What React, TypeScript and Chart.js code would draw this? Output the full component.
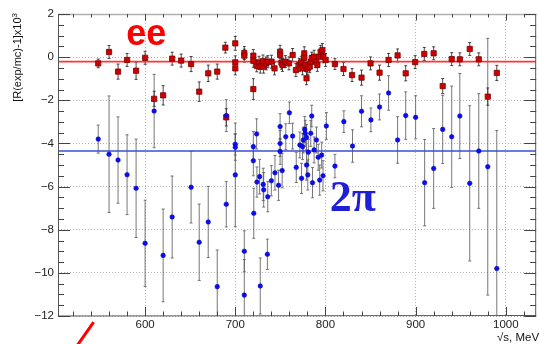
import { useEffect, useRef } from "react";
import { Chart, registerables } from "chart.js";

Chart.register(...registerables);

// Relative deviation of the measured ratio from MC, e+e- channel
const EE_ENERGY = [548, 560, 570, 580, 590, 600, 610, 620, 630, 640, 651, 660, 670, 680, 689, 690, 700, 700, 700, 710, 710, 720, 720, 720, 723.7, 726.3, 727.7, 730.7, 731.4, 734.3, 736.2, 740.2, 743.5, 749.7, 749.7, 751.2, 752.3, 755.6, 759.5, 763.6, 767.2, 771, 773.2, 774.6, 776.5, 776.5, 777.6, 779, 780.4, 782.6, 783.7, 784.8, 787.4, 789.2, 791, 792.9, 794.7, 796.6, 797.6, 800.2, 810.5, 820, 829.5, 840, 850, 860, 870, 880, 889, 899.5, 909.6, 920, 930, 940, 949, 960, 970, 980, 990];
const EE_DEV = [-0.29, 0.24, -0.67, -0.13, -0.63, -0.03, -1.93, -1.77, -0.07, -0.16, -0.32, -1.6, -0.75, -0.67, 0.44, -2.79, 0.64, -0.24, -0.52, 0.19, 0.07, 0.07, -0.17, -1.48, -0.4, -0.26, -0.44, -0.18, -0.44, -0.29, -0.21, -0.21, -0.52, 0.25, 0.1, -0.26, -0.36, -0.21, -0.29, 0.1, -0.6, -0.36, -0.24, -0.52, 0.18, -0.03, -0.36, -0.98, -0.52, -0.44, -0.21, -0.05, 0.02, -0.21, -0.36, 0.02, 0.25, 0.33, 0.02, -0.13, -0.32, -0.55, -0.83, -0.95, -0.29, -0.72, -0.13, 0.08, -0.75, -0.23, 0.15, 0.18, -1.34, -0.09, -0.1, 0.38, -0.1, -1.83, -0.73];
const EE_ERR = [0.2, 0.3, 0.35, 0.3, 0.4, 0.3, 0.35, 0.45, 0.3, 0.3, 0.35, 0.45, 0.38, 0.35, 0.25, 0.4, 0.32, 0.3, 0.3, 0.3, 0.3, 0.28, 0.3, 0.48, 0.28, 0.3, 0.3, 0.28, 0.3, 0.3, 0.28, 0.3, 0.3, 0.3, 0.28, 0.3, 0.3, 0.28, 0.3, 0.3, 0.3, 0.3, 0.28, 0.3, 0.3, 0.28, 0.3, 0.3, 0.3, 0.28, 0.3, 0.28, 0.3, 0.28, 0.3, 0.28, 0.3, 0.3, 0.28, 0.3, 0.25, 0.3, 0.3, 0.35, 0.3, 0.35, 0.3, 0.3, 0.35, 0.3, 0.3, 0.3, 0.35, 0.3, 0.3, 0.3, 0.3, 0.4, 0.35];

// Same quantity for the pi+pi- channel
const PI_ENERGY = [548, 560, 570, 580, 590, 600, 610, 620, 630, 651, 660, 670, 680, 690, 690, 700, 700, 700, 710, 710, 720, 720, 720.5, 723.7, 724, 727, 727.7, 731, 731.5, 735.6, 736, 740, 744, 748, 749.7, 749.7, 749.7, 752, 756, 760, 763.6, 767.6, 771.6, 773.5, 774.6, 775.4, 777, 777.6, 779, 779, 780.4, 781, 783.7, 784.8, 785.6, 787.4, 790, 792, 793.6, 795.8, 797.3, 801, 810.5, 820.4, 830, 840, 850.4, 860, 870, 880, 889, 900, 910, 920, 930, 940, 949, 960, 970, 980, 990];
const PI_DEV = [-3.8, -4.5, -4.77, -5.45, -6.08, -8.63, -2.5, -9.19, -7.41, -6.03, -8.58, -7.64, -10.64, -2.71, -6.82, -4.04, -4.18, -5.46, -9.0, -11.03, -4.15, -4.8, -7.24, -3.56, -5.79, -5.54, -10.61, -5.9, -6.15, -9.14, -6.47, -5.73, -5.36, -5.94, -3.22, -4.0, -4.37, -5.26, -3.69, -2.58, -3.66, -5.11, -4.07, -5.62, -4.15, -3.84, -3.35, -3.53, -3.72, -5.0, -5.46, -4.41, -3.53, -2.73, -5.82, -4.3, -3.84, -4.64, -5.7, -4.54, -5.5, -3.19, -5.05, -2.99, -4.12, -2.51, -2.91, -2.31, -1.66, -3.84, -2.71, -2.79, -5.82, -5.16, -3.35, -3.69, -2.73, -5.85, -4.35, -5.08, -9.8];
const PI_ERR = [0.65, 2.7, 2.0, 1.85, 2.28, 2.0, 1.7, 2.15, 1.9, 1.66, 1.77, 1.65, 1.7, 0.74, 1.05, 0.5, 0.6, 2.4, 0.95, 1.65, 0.7, 0.7, 1.16, 0.7, 0.7, 0.8, 1.3, 0.75, 0.8, 0.7, 0.7, 0.7, 0.8, 0.7, 0.6, 0.6, 0.6, 0.8, 0.6, 0.5, 0.6, 0.7, 0.6, 0.7, 0.6, 0.6, 0.6, 0.6, 0.6, 0.7, 0.7, 0.6, 0.6, 0.5, 0.7, 0.6, 0.6, 0.6, 0.7, 0.6, 0.7, 0.62, 0.54, 0.5, 0.75, 0.72, 0.55, 0.6, 0.8, 1.08, 1.1, 1.0, 2.0, 1.85, 1.58, 2.35, 1.97, 3.6, 2.66, 5.95, 6.4];

// Fitted constant levels
const EE_MEAN = -0.21;
const PI_MEAN = -4.35;

// Axes
const X_MIN = 503.4;
const X_MAX = 1033.7;
const Y_MIN = -12;
const Y_MAX = 2;
const X_TICKS = [600, 700, 800, 900, 1000];
const Y_TICKS = [2, 0, -2, -4, -6, -8, -10, -12];

const X_TITLE = "√s, MeV";
const Y_TITLE = "[R(exp/mc)-1]x10";
const Y_TITLE_SUP = "3";
const EE_LABEL = "ee";
const PI_LABEL = "2π";

const SANS = '"Liberation Sans", Arial, sans-serif';
const SERIF = '"Liberation Serif", "Times New Roman", serif';

const fmtTick = (v: number) => (v < 0 ? "\u2212" + Math.abs(v) : String(v));

const decor = {
  id: "decor",
  beforeDatasetsDraw(chart: any) {
    const { ctx, chartArea: a, scales } = chart;
    const x = scales.x;
    const y = scales.y;
    ctx.save();
    ctx.beginPath();
    ctx.rect(a.left, a.top, a.right - a.left, a.bottom - a.top);
    ctx.clip();
    const bars = (E: number[], V: number[], ERR: number[], color: string) => {
      ctx.strokeStyle = color;
      ctx.lineWidth = 1;
      for (let i = 0; i < E.length; i++) {
        const px = x.getPixelForValue(E[i]);
        const y1 = y.getPixelForValue(V[i] + ERR[i]);
        const y2 = y.getPixelForValue(V[i] - ERR[i]);
        ctx.beginPath();
        ctx.moveTo(px, y1);
        ctx.lineTo(px, y2);
        ctx.moveTo(px - 1.5, y1);
        ctx.lineTo(px + 1.5, y1);
        ctx.moveTo(px - 1.5, y2);
        ctx.lineTo(px + 1.5, y2);
        ctx.stroke();
      }
    };
    bars(PI_ENERGY, PI_DEV, PI_ERR, "rgba(95,95,95,0.85)");
    bars(EE_ENERGY, EE_DEV, EE_ERR, "rgba(40,40,40,0.85)");
    ctx.restore();
  },
  afterDraw(chart: any) {
    const { ctx, chartArea: a, scales } = chart;
    const x = scales.x;
    const y = scales.y;
    ctx.save();

    // frame
    ctx.strokeStyle = "#b0b0b0";
    ctx.lineWidth = 1.5;
    ctx.beginPath();
    ctx.moveTo(a.left, a.top + 0.5);
    ctx.lineTo(a.right, a.top + 0.5);
    ctx.stroke();
    ctx.strokeStyle = "#555";
    ctx.lineWidth = 1;
    ctx.beginPath();
    ctx.moveTo(a.left + 0.5, a.top);
    ctx.lineTo(a.left + 0.5, a.bottom);
    ctx.lineTo(a.right, a.bottom - 0.5);
    ctx.moveTo(a.right - 0.5, a.top);
    ctx.lineTo(a.right - 0.5, a.bottom);
    ctx.stroke();

    // inward tick marks on all sides
    ctx.strokeStyle = "#444";
    ctx.beginPath();
    for (let k = 0; k <= 25; k++) {
      const v = 520 + 20 * k;
      const px = Math.round(x.getPixelForValue(v)) + 0.5;
      const major = v % 100 === 0;
      const lb = major ? 9 : 4.5;
      const lt = major ? 6.5 : 3.5;
      ctx.moveTo(px, a.bottom);
      ctx.lineTo(px, a.bottom - lb);
      ctx.moveTo(px, a.top);
      ctx.lineTo(px, a.top + lt);
    }
    for (let k = 0; k <= 28; k++) {
      const v = Y_MIN + 0.5 * k;
      const py = Math.round(y.getPixelForValue(v)) + 0.5;
      const major = k % 4 === 0;
      const len = major ? 12 : 6;
      ctx.moveTo(a.left, py);
      ctx.lineTo(a.left + len, py);
      ctx.moveTo(a.right, py);
      ctx.lineTo(a.right - len, py);
    }
    ctx.stroke();

    // axis titles
    ctx.fillStyle = "#111";
    ctx.font = `11.5px ${SANS}`;
    ctx.textAlign = "left";
    ctx.textBaseline = "alphabetic";
    ctx.fillText(X_TITLE, 497, 341);

    ctx.save();
    ctx.translate(21, 0);
    ctx.rotate(-Math.PI / 2);
    ctx.font = `11px ${SANS}`;
    const wMain = ctx.measureText(Y_TITLE).width;
    ctx.font = `8px ${SANS}`;
    const wSup = ctx.measureText(Y_TITLE_SUP).width;
    const start = -13 - wMain - wSup;
    ctx.font = `11px ${SANS}`;
    ctx.fillText(Y_TITLE, start, 0);
    ctx.font = `8px ${SANS}`;
    ctx.fillText(Y_TITLE_SUP, start + wMain, -4.5);
    ctx.restore();

    // channel labels
    ctx.fillStyle = "#ff0000";
    ctx.font = `bold 36px ${SANS}`;
    ctx.fillText(EE_LABEL, x.getPixelForValue(579), y.getPixelForValue(0.56));
    ctx.fillStyle = "#1f1fd8";
    ctx.font = `bold 44px ${SERIF}`;
    ctx.fillText(PI_LABEL, x.getPixelForValue(804.8), y.getPixelForValue(-7.13));

    // red stroke below the axis
    ctx.strokeStyle = "#ff0000";
    ctx.lineWidth = 3;
    ctx.lineCap = "butt";
    ctx.beginPath();
    ctx.moveTo(x.getPixelForValue(542.9), y.getPixelForValue(-12.28));
    ctx.lineTo(x.getPixelForValue(524.2), y.getPixelForValue(-13.4));
    ctx.stroke();

    ctx.restore();
  },
};

export default function App() {
  const ref = useRef<HTMLCanvasElement | null>(null);

  useEffect(() => {
    if (!ref.current) return;
    const chart = new Chart(ref.current, {
      type: "scatter",
      data: {
        datasets: [
          {
            type: "scatter",
            label: PI_LABEL,
            data: PI_ENERGY.map((e, i) => ({ x: e, y: PI_DEV[i] })),
            pointStyle: "circle",
            pointRadius: 2.3,
            backgroundColor: "#0c0cf2",
            borderColor: "#0000c0",
            borderWidth: 0.5,
          },
          {
            type: "scatter",
            label: EE_LABEL,
            data: EE_ENERGY.map((e, i) => ({ x: e, y: EE_DEV[i] })),
            pointStyle: "rect",
            pointRadius: 3.7,
            backgroundColor: "#d10000",
            borderColor: "#7a0000",
            borderWidth: 0.8,
          },
          {
            type: "line",
            label: "2π fit",
            data: [
              { x: X_MIN, y: PI_MEAN },
              { x: X_MAX, y: PI_MEAN },
            ],
            borderColor: "#3a4ed2",
            borderWidth: 1.5,
            pointRadius: 0,
          },
          {
            type: "line",
            label: "ee fit",
            data: [
              { x: X_MIN, y: EE_MEAN },
              { x: X_MAX, y: EE_MEAN },
            ],
            borderColor: "#ff3535",
            borderWidth: 1.6,
            pointRadius: 0,
          },
        ],
      },
      options: {
        responsive: false,
        animation: false,
        devicePixelRatio: 1,
        events: [],
        layout: { padding: { top: 14, left: 0, right: 0, bottom: 0 } },
        plugins: { legend: { display: false }, tooltip: { enabled: false } },
        scales: {
          x: {
            type: "linear",
            min: X_MIN,
            max: X_MAX,
            afterBuildTicks: (s: any) => {
              s.ticks = X_TICKS.map((v) => ({ value: v }));
            },
            afterFit: (s: any) => {
              s.height = 28;
            },
            grid: { color: "#b4b4b4", lineWidth: 1, drawTicks: false },
            border: { display: false, dash: [1, 2] },
            ticks: {
              padding: 2,
              color: "#222",
              font: { family: SANS, size: 11.5 },
              maxRotation: 0,
              callback: (v: any) => String(v),
            },
          },
          y: {
            type: "linear",
            min: Y_MIN,
            max: Y_MAX,
            afterBuildTicks: (s: any) => {
              s.ticks = Y_TICKS.map((v) => ({ value: v }));
            },
            afterFit: (s: any) => {
              s.width = 58;
            },
            grid: { color: "#b4b4b4", lineWidth: 1, drawTicks: false },
            border: { display: false, dash: [1, 2] },
            ticks: {
              padding: 4,
              color: "#222",
              font: { family: SANS, size: 11.5 },
              callback: (v: any) => fmtTick(Number(v)),
            },
          },
        },
      },
      plugins: [decor],
    });
    return () => chart.destroy();
  }, []);

  return (
    <div
      style={{
        position: "fixed",
        left: 0,
        top: 0,
        width: 539,
        height: 344,
        overflow: "hidden",
        background: "#fff",
      }}
    >
      <canvas ref={ref} width={541} height={344} style={{ display: "block", width: 541, height: 344 }} />
    </div>
  );
}
